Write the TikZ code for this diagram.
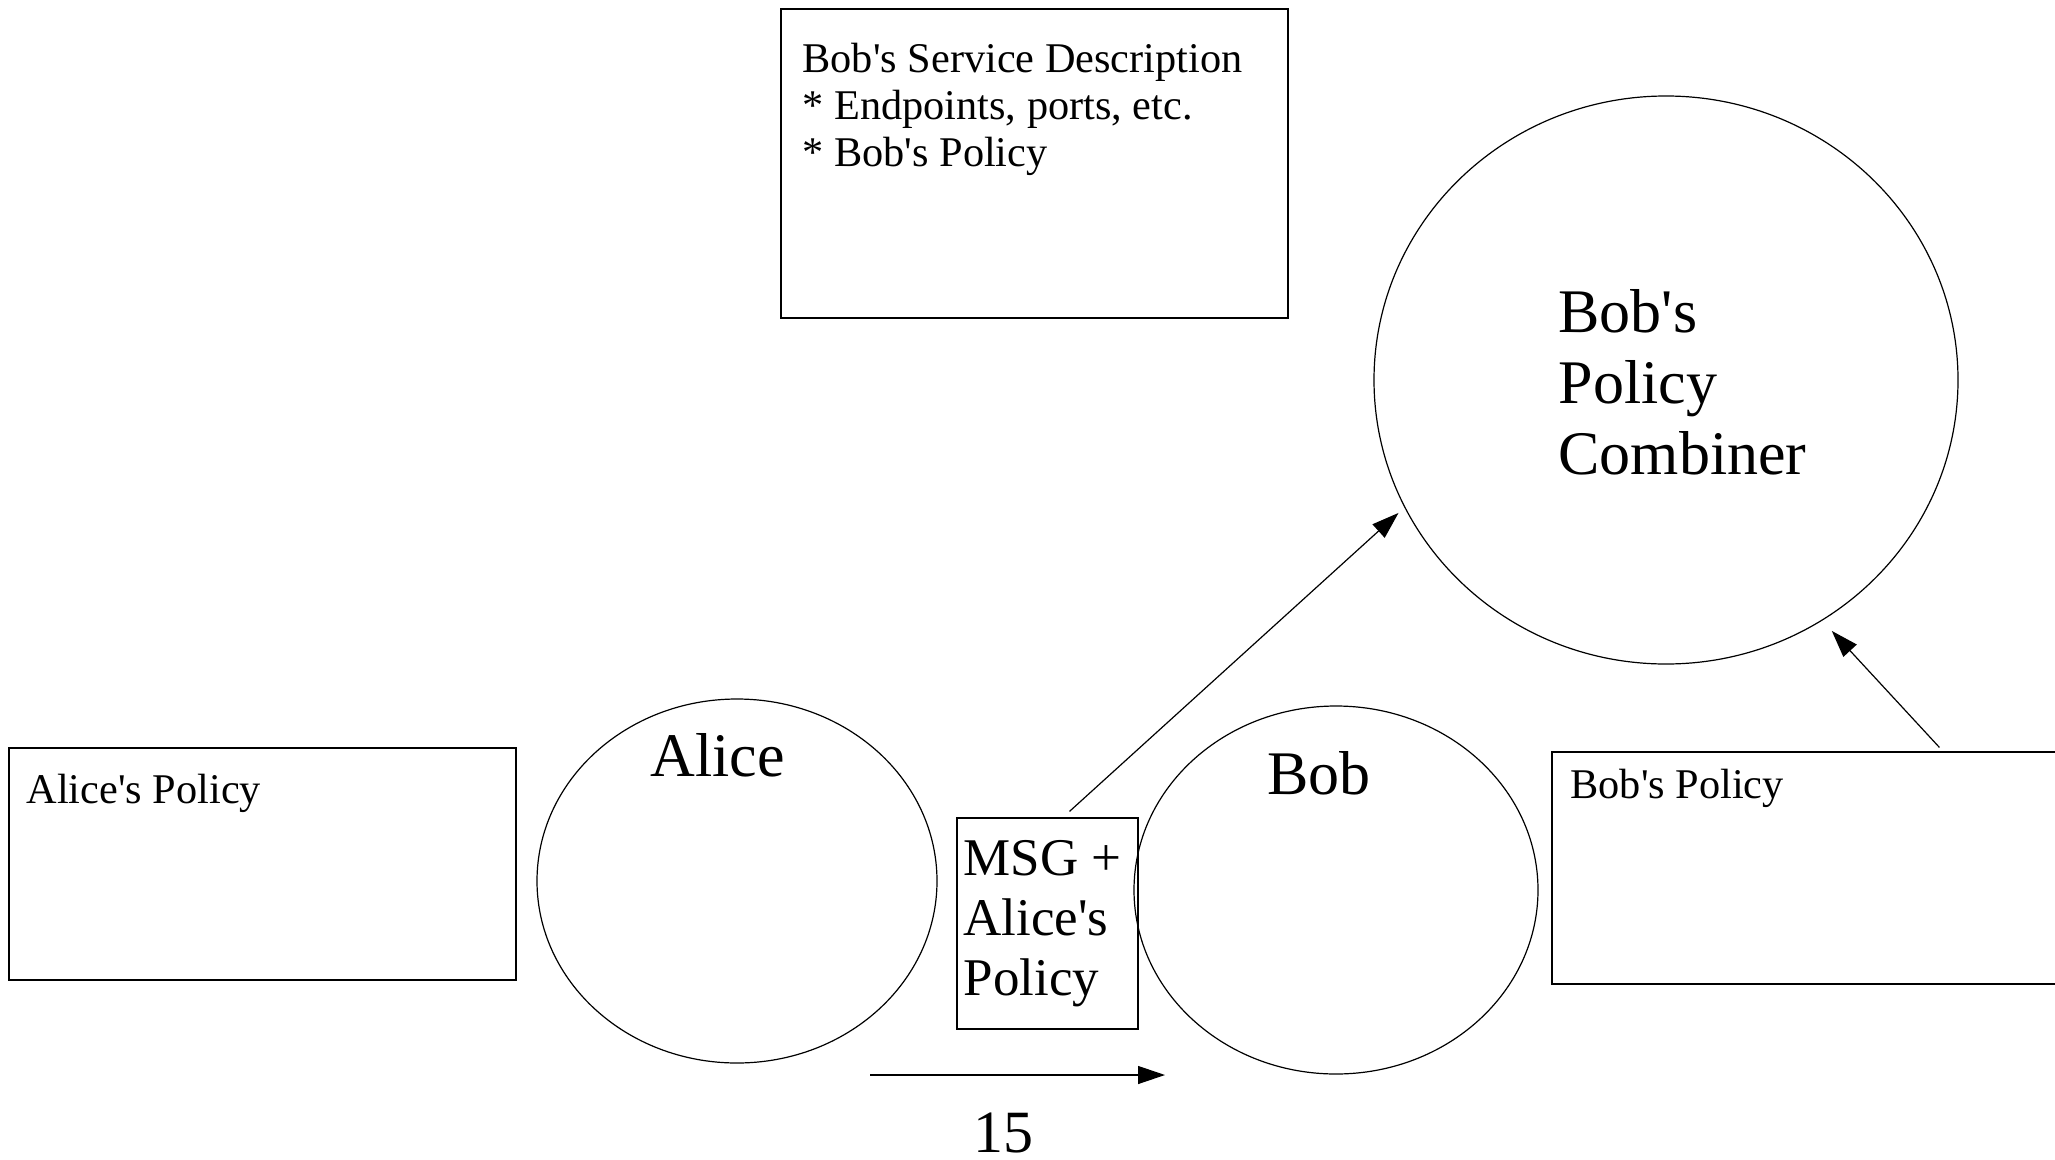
\documentclass[tikz,border=0pt]{standalone}
\usepackage{fontspec}
\setmainfont{Liberation Serif}
\usetikzlibrary{shapes.geometric,arrows.meta,calc}
\newcommand\myapos{\XeTeXglyph\XeTeXcharglyph"27\relax}
\begin{document}
\begin{tikzpicture}[x=1pt,y=-1pt,
  line width=1.2pt,
  boxshape/.style={draw, rectangle, inner sep=0pt},
  ellshape/.style={draw, ellipse, inner sep=0pt},
  txt/.style={inner sep=0pt, anchor=base west, align=left},
  conn/.style={-{Triangle[length=27pt,width=18pt]}},
  small/.style={font=\fontsize{42.3}{47}\selectfont},
  big/.style={font=\fontsize{62}{71}\selectfont},
  mid/.style={font=\fontsize{53}{60}\selectfont}]
\useasboundingbox (0,0) rectangle (2055,1159);
% boxes
\node[boxshape, minimum width=507pt, minimum height=309pt] (sd) at (1034.5,163.5) {};
\node[boxshape, minimum width=507pt, minimum height=232pt] (ap) at (262.5,864) {};
\node[boxshape, minimum width=528pt, minimum height=232pt] (bp) at (1816,868) {};
\node[boxshape, minimum width=181pt, minimum height=211pt] (msg) at (1047.5,923.5) {};
% ellipses
\node[ellshape, minimum width=584pt, minimum height=568pt] (comb) at (1666,380) {};
\node[ellshape, minimum width=400pt, minimum height=364pt] (alice) at (737,881) {};
\node[ellshape, minimum width=404pt, minimum height=368pt] (bob) at (1336,890) {};
% texts (base = last line)
\node[txt, small] (sdt) at (802,166) {Bob\myapos s Service Description\\* Endpoints, ports, etc.\\* Bob\myapos s Policy};
\node[txt, big] (combt) at (1558,474) {Bob\myapos s\\Policy\\Combiner};
\node[txt, big] (alicet) at (650,776) {Alice};
\node[txt, big] (bobt) at (1267,794) {Bob};
\node[txt, mid] (msgt) at (963,995) {MSG +\\Alice\myapos s\\Policy};
\node[txt, small] (apt) at (26,803) {Alice\myapos s Policy};
\node[txt, small] (bpt) at (1570,798) {Bob\myapos s Policy};
% connectors
\coordinate (m1) at ($(msg.north)+(22,-6)$);
\draw[conn, shorten >=8pt] (m1) -- (comb.206);
\coordinate (b1) at ($(bp.north west)+(388,-4)$);
\draw[conn, shorten >=14pt] (b1) -- (comb.303);
\coordinate (s1) at (870,1075);
\coordinate (s2) at (1165,1075);
\draw[conn] (s1) -- (s2);
\node[inner sep=0pt, anchor=base, font=\fontsize{60}{70}\selectfont] (num) at (1003,1152) {15};
\end{tikzpicture}
\end{document}
